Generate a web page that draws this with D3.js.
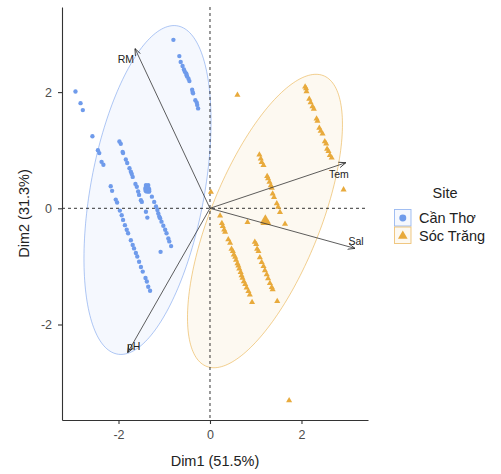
<!DOCTYPE html>
<html><head><meta charset="utf-8">
<script src="https://cdn.jsdelivr.net/npm/d3@7"></script>
<style>body{margin:0;background:#fff}svg{display:block;font-family:"Liberation Sans",Arial,sans-serif}</style>
</head><body><svg id="c" width="501" height="474"></svg>
<script>
// ---------- data ----------
const sites = ["Cần Thơ", "Sóc Trăng"];
const canThoX = [-0.80,-0.67,-0.64,-0.60,-0.57,-0.55,-0.52,-0.51,-0.50,-0.47,-0.45,-0.39,-0.38,-0.37,-0.32,-0.29,-0.28,-0.26,
 -2.94,-2.83,-2.78,-2.57,
 -2.45,-2.42,-2.37,-2.33,-2.17,-2.14,-2.06,-2.03,-1.97,-1.93,-1.90,-1.86,-1.82,-1.79,-1.73,-1.69,-1.66,-1.62,-1.59,-1.55,-1.51,-1.47,-1.41,-1.38,-1.35,-1.31,
 -1.98,-1.95,-1.91,-1.90,-1.84,-1.81,-1.76,-1.73,-1.71,-1.69,-1.63,-1.60,-1.57,-1.55,-1.51,-1.49,
 -1.35,-1.33,-1.27,-1.22,-1.18,-1.15,-1.13,-1.09,-1.11,-1.06,-1.02,-0.98,-0.95,-0.91,-0.89,-0.85,
 -1.40,-1.37,-1.08,-1.40,-1.41];
const canThoY = [2.90,2.62,2.52,2.45,2.39,2.35,2.32,2.29,2.27,2.23,2.19,2.04,2.00,1.98,1.86,1.82,1.78,1.72,
 2.01,1.81,1.69,1.24,
 1.00,0.95,0.80,0.75,0.38,0.30,0.15,0.10,-0.04,-0.12,-0.20,-0.29,-0.37,-0.43,-0.55,-0.63,-0.69,-0.77,-0.83,-0.92,-1.01,-1.09,-1.20,-1.26,-1.35,-1.42,
 1.15,1.11,0.97,0.95,0.84,0.78,0.69,0.63,0.59,0.54,0.42,0.37,0.29,0.23,0.14,0.11,
 0.40,0.29,0.20,0.11,0.03,-0.03,-0.09,-0.17,-0.14,-0.23,-0.30,-0.37,-0.43,-0.52,-0.57,-0.65,
 -0.06,-0.16,-0.75,0.40,0.35];
const socTrangX = [0.60,
 2.08,2.10,2.11,2.17,2.20,2.24,2.27,2.33,2.35,2.39,2.42,2.46,2.51,2.54,2.56,2.59,2.62,2.66,
 1.08,1.11,1.13,1.17,1.25,1.27,1.30,1.33,1.35,1.37,1.40,1.46,1.49,1.53,
 2.92,0.02,0.22,0.82,1.17,1.27,1.64,
 0.26,0.28,0.31,0.33,0.40,0.44,0.47,0.50,0.52,0.55,0.57,0.60,0.62,0.64,0.67,0.69,0.71,0.74,0.77,0.80,0.84,0.87,0.92,
 0.98,1.01,1.03,1.06,1.09,1.13,1.17,1.20,1.24,1.27,1.31,1.35,1.37,1.47,
 1.73];
const socTrangY = [1.96,
 2.10,2.07,2.02,1.89,1.83,1.76,1.72,1.55,1.51,1.39,1.34,1.29,1.16,1.12,1.03,0.99,0.92,0.88,
 0.93,0.86,0.80,0.75,0.56,0.52,0.46,0.40,0.36,0.26,0.20,0.09,0.03,-0.06,
 0.33,0.29,-0.12,-0.23,-0.25,-0.25,-0.26,
 -0.25,-0.30,-0.36,-0.40,-0.53,-0.59,-0.69,-0.73,-0.79,-0.83,-0.88,-0.94,-0.98,-1.03,-1.09,-1.15,-1.19,-1.25,-1.30,-1.36,-1.42,-1.48,-1.61,
 -0.57,-0.61,-0.69,-0.73,-0.84,-0.92,-0.99,-1.06,-1.13,-1.20,-1.28,-1.35,-1.39,-1.59,
 -3.30];
// group mean points
const meanX = [-1.37, 1.21];
const meanY = [0.32, -0.21];
// confidence ellipses (data units): centre, semi-axes, angle (deg)
const ellCx = [-1.366, 1.202];
const ellCy = [0.315, -0.219];
const ellA = [2.903, 2.818];
const ellB = [1.230, 1.143];
const ellAngle = [75.8, 60.97];
// variable arrows
const varNames = ["RM", "Tem", "Sal", "pH"];
const varX = [-1.64, 2.97, 3.17, -1.80];
const varY = [2.75, 0.785, -0.69, -2.485];
const xTicks = [-2, 0, 2];
const yTicks = [-2, 0, 2];
const xTitle = "Dim1 (51.5%)";
const yTitle = "Dim2 (31.3%)";
const legendTitle = "Site";

// ---------- styles ----------
const colors = ["#6F9BEB", "#E8AA3C"];
const fills = ["#6F9BEB", "#E8AA3C"];
const svg = d3.select("#c");
const x = d3.scaleLinear().domain([-3.235, 3.454]).range([62, 368]);
const y = d3.scaleLinear().domain([-3.644, 3.465]).range([420, 7]);

// ellipses
const line = d3.line().x(d => x(d[0])).y(d => y(d[1]));
sites.forEach((s, i) => {
  const pts = d3.range(0, 201).map(k => {
    const t = k / 200 * 2 * Math.PI, a = ellAngle[i] * Math.PI / 180;
    const u = ellA[i] * Math.cos(t), v = ellB[i] * Math.sin(t);
    return [ellCx[i] + u * Math.cos(a) - v * Math.sin(a), ellCy[i] + u * Math.sin(a) + v * Math.cos(a)];
  });
  svg.append("path").attr("d", line(pts) + "Z")
    .attr("fill", fills[i]).attr("fill-opacity", 0.07)
    .attr("stroke", colors[i]).attr("stroke-width", 0.7).attr("stroke-opacity", 0.8);
});

// reference dashed lines
svg.append("line").attr("x1", x(0)).attr("x2", x(0)).attr("y1", y.range()[1]).attr("y2", y.range()[0])
  .attr("stroke", "#000").attr("stroke-width", 0.8).attr("stroke-dasharray", "3,3");
svg.append("line").attr("x1", x.range()[0]).attr("x2", x.range()[1]).attr("y1", y(0)).attr("y2", y(0))
  .attr("stroke", "#000").attr("stroke-width", 0.8).attr("stroke-dasharray", "3,3");

// points
const circ = d3.symbol().type(d3.symbolCircle);
const tri = d3.symbol().type(d3.symbolTriangle);
svg.append("g").selectAll("path").data(canThoX.map((v, i) => [v, canThoY[i]])).join("path")
  .attr("d", circ.size(15)()).attr("transform", d => `translate(${x(d[0])},${y(d[1])})`)
  .attr("fill", colors[0]);
svg.append("g").selectAll("path").data(socTrangX.map((v, i) => [v, socTrangY[i]])).join("path")
  .attr("d", tri.size(16)()).attr("transform", d => `translate(${x(d[0])},${y(d[1]) + 0.5})`)
  .attr("fill", colors[1]);
// mean points
svg.append("path").attr("d", circ.size(50)()).attr("transform", `translate(${x(meanX[0])},${y(meanY[0])})`).attr("fill", colors[0]);
svg.append("path").attr("d", tri.size(50)()).attr("transform", `translate(${x(meanX[1])},${y(meanY[1])})`).attr("fill", colors[1]);

// arrows
svg.append("defs").append("marker").attr("id", "ah").attr("viewBox", "0 0 10 10")
  .attr("refX", 10).attr("refY", 5).attr("markerWidth", 7).attr("markerHeight", 7)
  .attr("markerUnits", "userSpaceOnUse").attr("orient", "auto")
  .append("path").attr("d", "M0,1L10,5L0,9").attr("fill", "none").attr("stroke", "#222").attr("stroke-width", 1.1);
const labOff = [[-9, 10], [-7, 11], [1, -7], [6, -7]];
varNames.forEach((n, i) => {
  svg.append("line").attr("x1", x(0)).attr("y1", y(0)).attr("x2", x(varX[i])).attr("y2", y(varY[i]))
    .attr("stroke", "#333").attr("stroke-width", 0.8).attr("marker-end", "url(#ah)");
  svg.append("text").attr("x", x(varX[i]) + labOff[i][0]).attr("y", y(varY[i]) + labOff[i][1])
    .attr("text-anchor", "middle").attr("dominant-baseline", "central")
    .attr("font-size", 10.5).attr("fill", "#222").text(n);
});

// axes
const gx = svg.append("g").attr("transform", `translate(0,${y.range()[0]})`)
  .call(d3.axisBottom(x).tickValues(xTicks).tickFormat(d => String(d)).tickSize(4).tickPadding(6).tickSizeOuter(0));
const gy = svg.append("g").attr("transform", `translate(${x.range()[0]},0)`)
  .call(d3.axisLeft(y).tickValues(yTicks).tickFormat(d => String(d)).tickSize(4).tickPadding(6).tickSizeOuter(0));
[gx, gy].forEach(g => {
  g.select(".domain").attr("stroke", "#333").attr("stroke-width", 1.1);
  g.selectAll(".tick line").attr("stroke", "#333").attr("stroke-width", 1.1);
  g.selectAll(".tick text").attr("fill", "#4D4D4D").attr("font-size", 12.5).attr("font-family", "Liberation Sans, Arial, sans-serif");
});
svg.append("text").attr("x", x.range()[0] + (x.range()[1] - x.range()[0]) / 2).attr("y", 466)
  .attr("text-anchor", "middle").attr("font-size", 14.5).attr("fill", "#222").text(xTitle);
svg.append("text").attr("transform", `translate(29,${(y.range()[0] + y.range()[1]) / 2}) rotate(-90)`)
  .attr("text-anchor", "middle").attr("font-size", 14.5).attr("fill", "#222").text(yTitle);

// legend
const lg = svg.append("g");
lg.append("text").attr("x", 445).attr("y", 198).attr("text-anchor", "middle").attr("font-size", 14.5).attr("fill", "#222").text(legendTitle);
sites.forEach((s, i) => {
  const ky = 209 + i * 17.5;
  lg.append("rect").attr("x", 394.5).attr("y", ky + 0.5).attr("width", 16.5).attr("height", 16.5)
    .attr("fill", fills[i]).attr("fill-opacity", 0.07).attr("stroke", colors[i]).attr("stroke-opacity", 0.7).attr("stroke-width", 0.9);
  lg.append("path").attr("d", (i === 0 ? circ : tri).size(i === 0 ? 38 : 40)())
    .attr("transform", `translate(402.8,${ky + 9 + (i === 1 ? 0.5 : 0)})`).attr("fill", colors[i]);
  lg.append("text").attr("x", 419).attr("y", ky + 9).attr("dominant-baseline", "central")
    .attr("font-size", 14.5).attr("fill", "#222").text(s);
});
</script></body></html>
